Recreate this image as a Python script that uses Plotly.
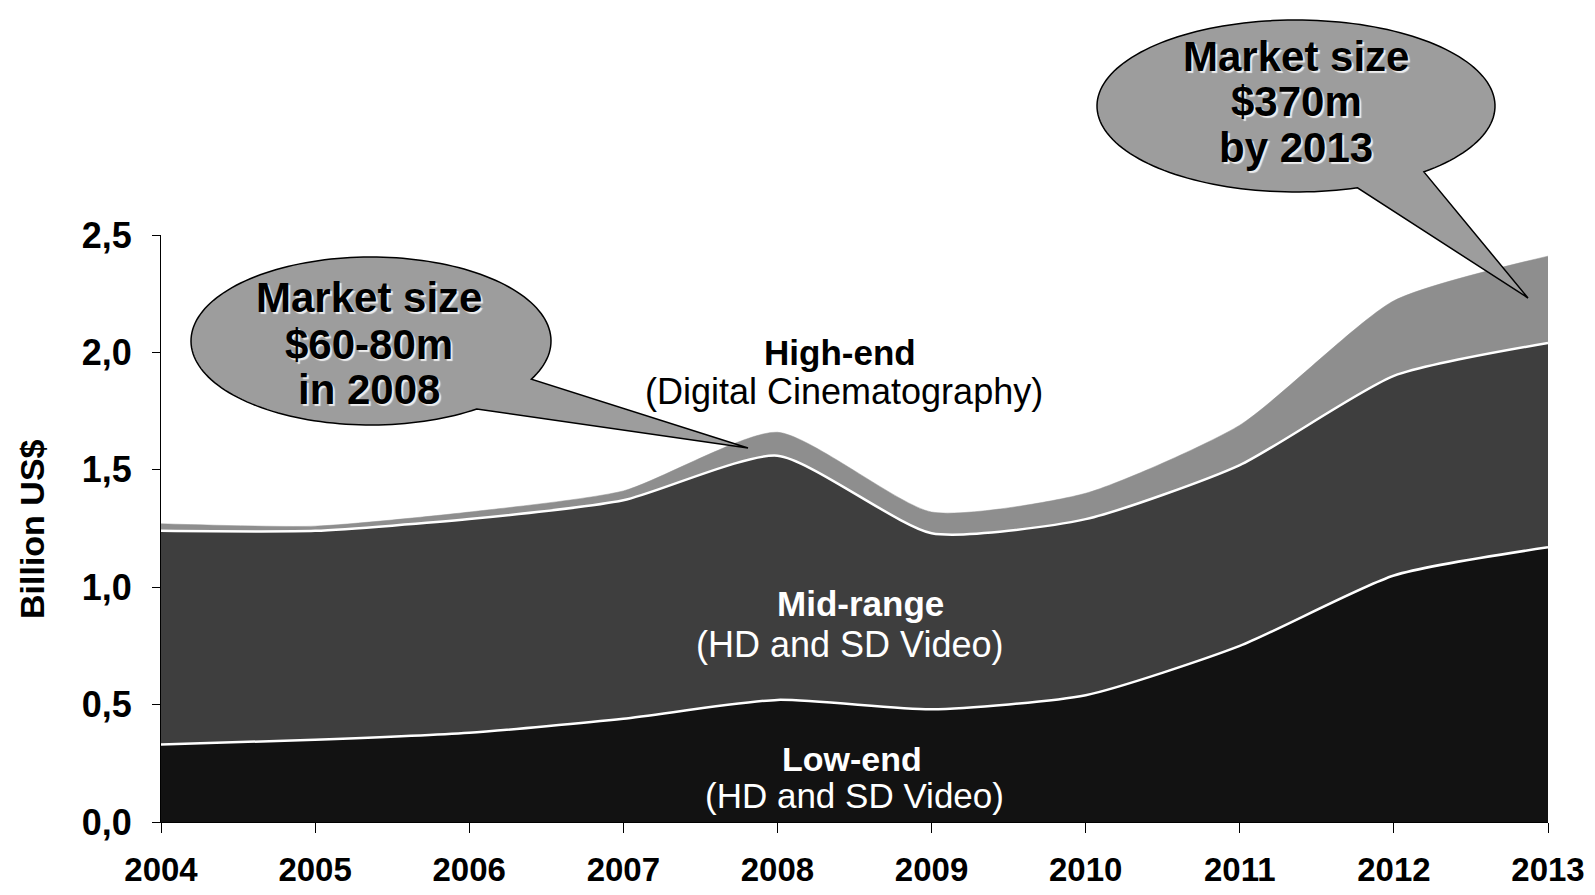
import numpy as np
import plotly.graph_objects as go

# ---------------- data ----------------
years = [2004, 2005, 2006, 2007, 2008, 2009, 2010, 2011, 2012, 2013]
low_end = [0.33, 0.35, 0.38, 0.44, 0.52, 0.48, 0.54, 0.75, 1.05, 1.17]
mid_range = [0.91, 0.89, 0.91, 0.93, 1.04, 0.75, 0.75, 0.77, 0.85, 0.87]
high_end = [0.03, 0.02, 0.03, 0.04, 0.10, 0.09, 0.11, 0.17, 0.32, 0.37]
y_ticks = [0.0, 0.5, 1.0, 1.5, 2.0, 2.5]
y_tick_labels = ["0,0", "0,5", "1,0", "1,5", "2,0", "2,5"]
year_labels = [str(y) for y in years]

# ---------------- layout geometry (page pixels) ----------------
PAGE_W, PAGE_H = 1595, 895
OFF = 8                      # default body margin of the html page
FIG_W, FIG_H = PAGE_W - 2 * OFF, PAGE_H - 2 * OFF
L, R, T, B = 161, 1548, 235, 822   # plot area in page pixels
FONT = "Liberation Sans, Arial, Helvetica, sans-serif"


def px(x):
    return (x - L) / (R - L)


def py(y):
    return (B - y) / (B - T)


fig = go.Figure()
fig.add_trace(go.Scatter(
    x=years, y=low_end, stackgroup="one", mode="lines", name="Low-end",
    line=dict(color="#ffffff", width=2.5, shape="spline", smoothing=0.6),
    fillcolor="#121212"))
fig.add_trace(go.Scatter(
    x=years, y=mid_range, stackgroup="one", mode="lines", name="Mid-range",
    line=dict(color="#ffffff", width=2.5, shape="spline", smoothing=0.6),
    fillcolor="#3e3e3e"))
fig.add_trace(go.Scatter(
    x=years, y=high_end, stackgroup="one", mode="lines", name="High-end",
    line=dict(color="#8e8e8e", width=0.5, shape="spline", smoothing=0.6),
    fillcolor="#8e8e8e"))


def bubble(cx, cy, rx, ry, t1, t2, tip):
    ang = np.deg2rad(np.linspace(t2, t1 + 360, 160))
    pts = [(cx + rx * np.cos(a), cy + ry * np.sin(a)) for a in ang]
    pts.append(tip)
    d = "M " + " L ".join(f"{px(x):.5f},{py(y):.5f}" for x, y in pts) + " Z"
    return dict(type="path", path=d, xref="paper", yref="paper",
                fillcolor="#9d9d9d", line=dict(color="#000000", width=1.5),
                layer="above")


shapes = [
    bubble(371, 341, 180, 84, 27, 54, (748, 448)),
    bubble(1296, 106, 199, 86, 50, 72, (1528, 298)),
]

annotations = []


def label(x, y, text, size, color, bold=False, shadow=None):
    f = dict(family=FONT, size=size, color=color,
             weight="bold" if bold else "normal")
    if shadow:
        f["shadow"] = shadow
    annotations.append(dict(x=px(x), y=py(y), xref="paper", yref="paper",
                            text=text, showarrow=False, xanchor="center",
                            yanchor="middle", font=f))


label(840, 352, "High-end", 35, "#000000", bold=True)
label(844, 391, "(Digital Cinematography)", 36, "#000000")
label(860, 603, "Mid-range", 35, "#ffffff", bold=True)
label(849, 644, "(HD and SD Video)", 36, "#ffffff")
label(852, 759, "Low-end", 34, "#ffffff", bold=True)
label(854, 795, "(HD and SD Video)", 35, "#ffffff")

sh = "2px 2px 1px #eeeeee"
label(369, 297, "Market size", 42, "#000000", bold=True, shadow=sh)
label(369, 344, "$60-80m", 42, "#000000", bold=True, shadow=sh)
label(369, 389, "in 2008", 42, "#000000", bold=True, shadow=sh)
label(1296, 56, "Market size", 42, "#000000", bold=True, shadow=sh)
label(1296, 102, "$370m", 42, "#000000", bold=True, shadow=sh)
label(1296, 147, "by 2013", 42, "#000000", bold=True, shadow=sh)

annotations.append(dict(x=px(32), y=py(529), xref="paper", yref="paper",
                        text="Billion US$", showarrow=False, textangle=-90,
                        xanchor="center", yanchor="middle",
                        font=dict(family=FONT, size=34, color="#000000",
                                  weight="bold")))

fig.update_layout(
    width=FIG_W, height=FIG_H, autosize=False,
    margin=dict(l=L - OFF, r=(OFF + FIG_W) - R, t=T - OFF,
                b=(OFF + FIG_H) - B, pad=0, autoexpand=False),
    paper_bgcolor="#ffffff", plot_bgcolor="#ffffff",
    showlegend=False,
    shapes=shapes, annotations=annotations,
    font=dict(family=FONT, color="#000000"),
)
fig.update_xaxes(
    range=[2004, 2013], tickvals=years, ticktext=year_labels,
    showgrid=False, zeroline=False, showline=True, linecolor="#000000",
    linewidth=1, ticks="outside", ticklen=10, tickcolor="#000000",
    ticklabelstandoff=8, automargin=False,
    tickfont=dict(family=FONT, size=33, color="#000000", weight="bold"))
fig.update_yaxes(
    range=[0, 2.5], tickvals=y_ticks, ticktext=y_tick_labels,
    showgrid=False, zeroline=False, showline=True, linecolor="#000000",
    linewidth=1, ticks="outside", ticklen=8, tickcolor="#000000",
    ticklabelstandoff=13, automargin=False,
    tickfont=dict(family=FONT, size=36, color="#000000", weight="bold"))

fig.write_html("out.html")
